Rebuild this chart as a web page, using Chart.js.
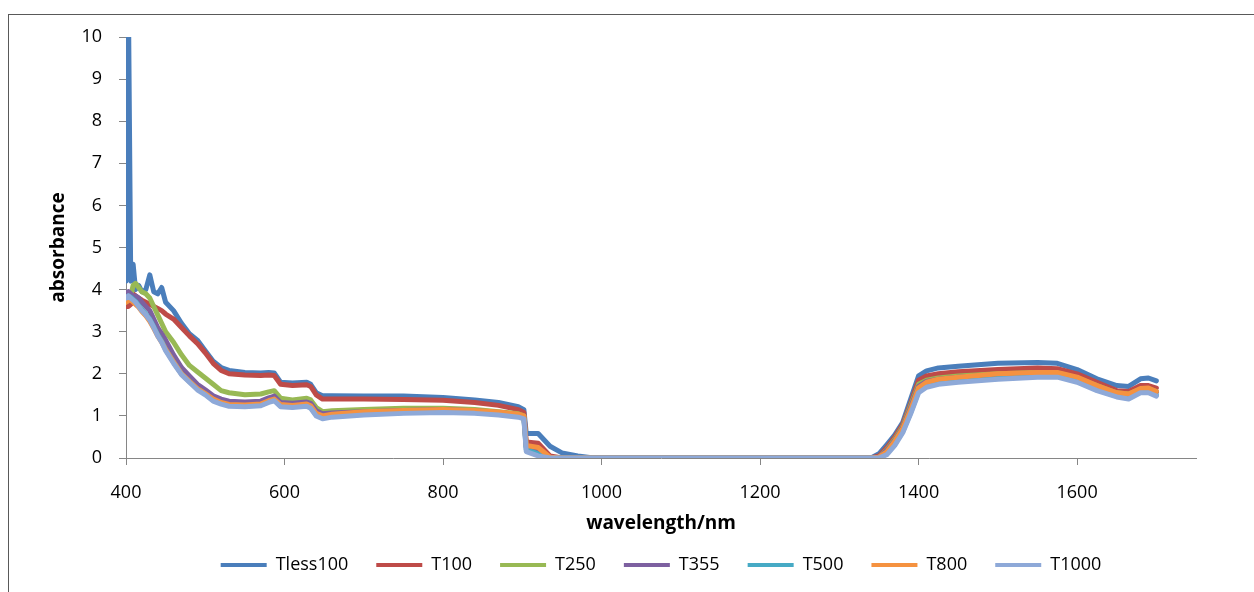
<!DOCTYPE html>
<html>
<head>
<meta charset="utf-8">
<script src="https://cdn.jsdelivr.net/npm/chart.js@4.4.1/dist/chart.umd.min.js"></script>
<style>
  html, body { margin: 0; padding: 0; background: #fff; overflow: hidden; }
  #frame { position: absolute; left: 8px; top: 14px; width: 1400px; height: 700px; border: 1px solid #595959; }
  #chart { position: absolute; left: 0; top: 0; }
</style>
</head>
<body>
<div id="frame"></div>
<canvas id="chart" width="1254" height="592"></canvas>
<script>
// wavelength grid (nm)
const wavelengths = [400, 403, 406, 409, 412, 416, 420, 425, 430, 435,
  440, 445, 450, 460, 470, 480, 490, 500, 510, 520,
  530, 550, 570, 580, 587, 595, 610, 628, 633, 640,
  648, 660, 700, 750, 800, 840, 870, 895, 902, 905,
  920, 935, 950, 970, 990, 1100, 1300, 1340, 1350, 1360,
  1370, 1380, 1390, 1400, 1410, 1425, 1450, 1500, 1550, 1575,
  1600, 1625, 1650, 1665, 1680, 1690, 1700];

const seriesNames = ['Tless100', 'T100', 'T250', 'T355', 'T500', 'T800', 'T1000'];
const seriesColors = ['#4A7EBB', '#BE4B48', '#98B954', '#7D60A0', '#46AAC5', '#F59240', '#8EA9D8'];

const tless100 = [4.2, 11, 4.2, 4.6, 4.0, 4.1, 3.95, 4.0, 4.35, 3.95,
  3.9, 4.05, 3.7, 3.5, 3.2, 2.95, 2.8, 2.55, 2.3, 2.15,
  2.08, 2.03, 2.02, 2.03, 2.02, 1.8, 1.78, 1.8, 1.75, 1.55,
  1.48, 1.48, 1.47, 1.47, 1.44, 1.38, 1.32, 1.22, 1.15, 0.58,
  0.58, 0.28, 0.12, 0.05, 0, 0, 0, 0, 0.1, 0.32,
  0.55, 0.85, 1.4, 1.95, 2.07, 2.14, 2.18, 2.25, 2.27, 2.25,
  2.1, 1.88, 1.72, 1.7, 1.88, 1.9, 1.83];
const t100 = [3.6, 3.6, 3.65, 3.9, 3.85, 3.8, 3.75, 3.7, 3.65, 3.6,
  3.55, 3.5, 3.42, 3.3, 3.1, 2.9, 2.72, 2.5, 2.25, 2.08,
  2.0, 1.97, 1.96, 1.97, 1.96, 1.75, 1.72, 1.74, 1.7, 1.5,
  1.4, 1.4, 1.4, 1.39, 1.37, 1.32, 1.25, 1.15, 1.08, 0.38,
  0.35, 0.05, 0, 0, 0, 0, 0, 0, 0.05, 0.25,
  0.5, 0.8, 1.3, 1.85, 1.95, 2.0, 2.05, 2.1, 2.14, 2.12,
  2.0, 1.8, 1.6, 1.58, 1.72, 1.72, 1.66];
const t250 = [3.7, 3.75, 3.85, 4.1, 4.15, 4.05, 3.95, 3.9, 3.8, 3.6,
  3.4, 3.2, 3.0, 2.75, 2.45, 2.2, 2.05, 1.9, 1.75, 1.6,
  1.55, 1.5, 1.52, 1.57, 1.6, 1.42, 1.38, 1.42, 1.38, 1.2,
  1.1, 1.12, 1.15, 1.18, 1.18, 1.15, 1.1, 1.05, 1.0, 0.28,
  0.22, 0, 0, 0, 0, 0, 0, 0, 0.02, 0.2,
  0.45, 0.75, 1.25, 1.75, 1.85, 1.9, 1.95, 2.0, 2.03, 2.02,
  1.9, 1.72, 1.55, 1.52, 1.64, 1.65, 1.58];
const t355 = [3.9, 3.95, 3.9, 3.85, 3.85, 3.8, 3.7, 3.6, 3.5, 3.3,
  3.1, 2.95, 2.8, 2.45, 2.15, 1.95, 1.75, 1.62, 1.48, 1.4,
  1.35, 1.33, 1.35, 1.43, 1.47, 1.32, 1.3, 1.33, 1.3, 1.12,
  1.05, 1.07, 1.1, 1.13, 1.15, 1.12, 1.08, 1.03, 0.98, 0.25,
  0.2, 0, 0, 0, 0, 0, 0, 0, 0.02, 0.18,
  0.42, 0.72, 1.2, 1.7, 1.82, 1.87, 1.92, 1.97, 2.0, 1.99,
  1.88, 1.7, 1.53, 1.5, 1.62, 1.63, 1.56];
const t500 = [3.8, 3.85, 3.82, 3.77, 3.72, 3.62, 3.52, 3.42, 3.3, 3.12,
  2.93, 2.78, 2.58, 2.28, 2.0, 1.82, 1.64, 1.52, 1.37, 1.3,
  1.25, 1.24, 1.26, 1.34, 1.38, 1.24, 1.22, 1.25, 1.2, 1.02,
  0.95, 0.99, 1.04, 1.08, 1.1, 1.08, 1.04, 0.99, 0.95, 0.2,
  0.1, 0, 0, 0, 0, 0, 0, 0, 0, 0.1,
  0.33, 0.63, 1.08, 1.58, 1.7, 1.77, 1.82, 1.89, 1.94, 1.94,
  1.82, 1.62, 1.47, 1.42, 1.57, 1.57, 1.49];
const t800 = [3.7, 3.75, 3.75, 3.7, 3.65, 3.58, 3.48, 3.38, 3.25, 3.08,
  2.9, 2.75, 2.58, 2.28, 2.0, 1.82, 1.65, 1.53, 1.4, 1.32,
  1.27, 1.26, 1.28, 1.36, 1.4, 1.27, 1.25, 1.28, 1.24, 1.06,
  1.0, 1.04, 1.1, 1.13, 1.15, 1.13, 1.09, 1.04, 1.0, 0.3,
  0.25, 0.02, 0, 0, 0, 0, 0, 0, 0.02, 0.15,
  0.4, 0.7, 1.15, 1.67, 1.8, 1.87, 1.92, 2.0, 2.03, 2.03,
  1.92, 1.72, 1.55, 1.52, 1.65, 1.66, 1.58];
const t1000 = [3.8, 3.85, 3.8, 3.75, 3.7, 3.6, 3.5, 3.4, 3.28, 3.1,
  2.9, 2.75, 2.55, 2.25, 1.98, 1.8, 1.62, 1.5, 1.35, 1.28,
  1.23, 1.22, 1.24, 1.32, 1.36, 1.22, 1.2, 1.23, 1.18, 1.0,
  0.93, 0.97, 1.02, 1.06, 1.08, 1.06, 1.02, 0.97, 0.93, 0.15,
  0.05, 0, 0, 0, 0, 0, 0, 0, 0, 0.08,
  0.3, 0.6, 1.05, 1.55, 1.68, 1.75, 1.8, 1.87, 1.92, 1.92,
  1.8, 1.6, 1.45, 1.4, 1.55, 1.55, 1.47];

const seriesValues = [tless100, t100, t250, t355, t500, t800, t1000];

const xTicks = [400, 600, 800, 1000, 1200, 1400, 1600];
const yTicks = [0, 1, 2, 3, 4, 5, 6, 7, 8, 9, 10];

const axisGrey = '#868686';
const FONT = "'Open Sans', 'Liberation Sans', sans-serif";

// last series is drawn on top, like Excel does
const datasets = seriesNames.map((name, i) => ({
  label: name,
  data: wavelengths.map((w, j) => ({ x: w, y: seriesValues[i][j] })),
  borderColor: seriesColors[i],
  backgroundColor: seriesColors[i],
  borderWidth: 5,
  pointRadius: 0,
  tension: 0,
  borderJoinStyle: 'round',
  borderCapStyle: 'round',
  order: seriesNames.length - 1 - i
}));

new Chart(document.getElementById('chart'), {
  type: 'line',
  data: { datasets: datasets },
  options: {
    responsive: false,
    animation: false,
    devicePixelRatio: 1,
    layout: { padding: { left: 45, right: 58, top: 37, bottom: 8 } },
    plugins: {
      tooltip: { enabled: false },
      legend: {
        position: 'bottom',
        fullSize: false,
        labels: {
          font: { family: FONT, size: 18 },
          color: '#000',
          usePointStyle: true,
          pointStyle: 'line',
          pointStyleWidth: 46,
          padding: 28,
          sort: (a, b) => a.datasetIndex - b.datasetIndex,
          generateLabels: (chart) => Chart.defaults.plugins.legend.labels.generateLabels(chart)
            .map(item => Object.assign(item, { lineWidth: 4 }))
        }
      }
    },
    scales: {
      x: {
        type: 'linear',
        min: 400,
        max: 1750,
        afterBuildTicks: (scale) => { scale.ticks = xTicks.map(v => ({ value: v })); },
        afterFit: (scale) => { scale.height = 70; },
        ticks: {
          font: { family: FONT, size: 18 },
          color: '#000',
          padding: 17,
          maxRotation: 0,
          callback: (v) => String(v)
        },
        grid: { drawOnChartArea: false, drawTicks: true, tickLength: 7, color: axisGrey },
        border: { display: true, color: axisGrey, width: 1 },
        title: {
          display: true,
          text: 'wavelength/nm',
          color: '#000',
          font: { family: FONT, size: 19, weight: 'bold' },
          padding: { top: 0, bottom: -7 }
        }
      },
      y: {
        min: 0,
        max: 10,
        afterBuildTicks: (scale) => { scale.ticks = yTicks.map(v => ({ value: v })); },
        afterFit: (scale) => { scale.width = 81; },
        ticks: {
          font: { family: FONT, size: 18 },
          color: '#000',
          padding: 17,
          callback: (v) => String(v)
        },
        grid: { drawOnChartArea: false, drawTicks: true, tickLength: 7, color: axisGrey },
        border: { display: true, color: axisGrey, width: 1 },
        title: {
          display: true,
          text: 'absorbance',
          color: '#000',
          font: { family: FONT, size: 19, weight: 'bold' },
          padding: { top: 2, bottom: 0 }
        }
      }
    }
  }
});
</script>
</body>
</html>
